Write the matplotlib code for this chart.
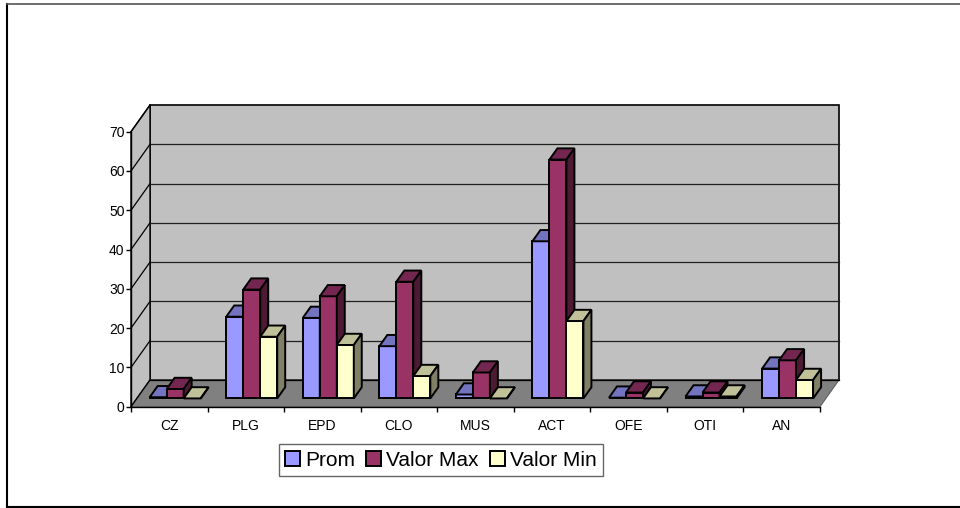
import matplotlib
matplotlib.use("Agg")
import matplotlib.pyplot as plt
from matplotlib.patches import Polygon, Patch
from matplotlib.lines import Line2D
import numpy as np

plt.rcParams["font.family"] = ["Liberation Sans", "DejaVu Sans"]

# ---- data -------------------------------------------------------------
categories = ["CZ", "PLG", "EPD", "CLO", "MUS", "ACT", "OFE", "OTI", "AN"]
prom = [0.3, 20.8, 20.5, 13.3, 1.0, 40.0, 0.2, 0.5, 7.6]
valor_max = [2.4, 27.7, 26.0, 29.7, 6.6, 60.8, 1.5, 1.5, 9.7]
valor_min = [0.0, 15.7, 13.6, 5.7, 0.0, 19.7, 0.0, 0.5, 4.7]
series_names = ["Prom", "Valor Max", "Valor Min"]
y_ticks = [0, 10, 20, 30, 40, 50, 60, 70]

series = [prom, valor_max, valor_min]
front_colors = ["#9999FF", "#993366", "#FFFFCC"]
top_colors = ["#7373C0", "#732650", "#C0C099"]
side_colors = ["#4D4D80", "#4D1A33", "#808066"]

# ---- figure / front plane of the 3-D box --------------------------------
W, H = 960, 508
fig = plt.figure(figsize=(W / 100, H / 100), dpi=100)
fig.patch.set_facecolor("white")

x_left, x_right = 131, 820          # front plane, pixels from left
y_bottom, y_top = 406.7, 131.7      # front plane, pixels from top
ax = fig.add_axes([x_left / W, 1 - y_bottom / H,
                   (x_right - x_left) / W, (y_bottom - y_top) / H])
n = len(categories)
ymax = y_ticks[-1]
ax.set_xlim(-0.5, n - 0.5)
ax.set_ylim(0, ymax)
ax.patch.set_visible(False)

px_per_cat = (x_right - x_left) / n
px_per_val = (y_bottom - y_top) / ymax
# oblique depth vector of the box (pixels) converted to data units
DX = 19.0 / px_per_cat
DY = 26.7 / px_per_val

wall_kw = dict(closed=True, clip_on=False)
xa, xb = -0.5, n - 0.5

# back wall
ax.add_patch(Polygon([(xa + DX, DY), (xb + DX, DY), (xb + DX, ymax + DY),
                      (xa + DX, ymax + DY)], facecolor="#C0C0C0",
                     edgecolor="black", lw=1.2, zorder=0, **wall_kw))
# side wall
ax.add_patch(Polygon([(xa, 0), (xa, ymax), (xa + DX, ymax + DY), (xa + DX, DY)],
                     facecolor="#C0C0C0", edgecolor="black", lw=1.0,
                     zorder=0.2, **wall_kw))
# floor
ax.add_patch(Polygon([(xa, 0), (xb, 0), (xb + DX, DY), (xa + DX, DY)],
                     facecolor="#808080", edgecolor="#606060", lw=0.8,
                     zorder=0.5, **wall_kw))

# gridlines on side and back walls
for v in y_ticks:
    ax.plot([xa, xa + DX], [v, v + DY], color="black", lw=0.9,
            zorder=0.6, clip_on=False)
    if 0 < v < ymax:
        ax.plot([xa + DX, xb + DX], [v + DY, v + DY], color="#202020",
                lw=0.9, zorder=0.3, clip_on=False)
ax.plot([xa + DX, xb + DX], [DY, DY], color="black", lw=0.9, zorder=0.6,
        clip_on=False)

# ---- 3-D columns --------------------------------------------------------
bar_w = 17.0 / px_per_cat
f_front, f_back = 0.31, 0.73
bdx = (f_back - f_front) * DX
bdy = (f_back - f_front) * DY
base = f_front * DY

order = 0
for j in range(n):
    for k, vals in enumerate(series):
        v = vals[j]
        xl = j - 1.5 * bar_w + k * bar_w + f_front * DX
        z = 3 + order * 0.01
        order += 1
        ax.bar(xl, v, width=bar_w, bottom=base, align="edge",
               color=front_colors[k], edgecolor="black", lw=1.4,
               zorder=z, clip_on=False)
        top = base + v
        ax.add_patch(Polygon([(xl, top), (xl + bar_w, top),
                              (xl + bar_w + bdx, top + bdy), (xl + bdx, top + bdy)],
                             facecolor=top_colors[k], edgecolor="black", lw=1.4,
                             zorder=z, closed=True, clip_on=False))
        ax.add_patch(Polygon([(xl + bar_w, base), (xl + bar_w, top),
                              (xl + bar_w + bdx, top + bdy), (xl + bar_w + bdx, base + bdy)],
                             facecolor=side_colors[k], edgecolor="black", lw=1.4,
                             zorder=z, closed=True, clip_on=False))

# ---- axes ---------------------------------------------------------------
for s in ("top", "right"):
    ax.spines[s].set_visible(False)
for s in ("left", "bottom"):
    ax.spines[s].set_color("black")
    ax.spines[s].set_linewidth(1.0)
    ax.spines[s].set_zorder(1)

ax.set_yticks(y_ticks)
ax.set_yticklabels([str(t) for t in y_ticks], fontsize=10)
ax.tick_params(axis="y", length=3.6, width=1.0, pad=1, colors="black")

ax.set_xticks(range(n))
ax.set_xticklabels(categories, fontsize=10)
ax.tick_params(axis="x", which="major", length=0, pad=9)
ax.set_xticks(np.arange(-0.5, n, 1.0), minor=True)
ax.tick_params(axis="x", which="minor", length=3.6, width=1.0, direction="out")

# ---- legend -------------------------------------------------------------
handles = [Patch(facecolor=c, edgecolor="black", lw=1.4) for c in front_colors]
leg = fig.legend(handles, series_names, loc="center",
                 bbox_to_anchor=(441 / W, 1 - 460 / H), ncol=3, fontsize=15,
                 frameon=True, fancybox=False, handlelength=0.7,
                 handleheight=0.7, handletextpad=0.25, columnspacing=0.55,
                 borderpad=0.3, borderaxespad=0)
leg.get_frame().set_edgecolor("#404040")
leg.get_frame().set_linewidth(1.0)

# ---- chart-area border --------------------------------------------------
bx0, by_top, by_bot = 7 / W, 1 - 4 / H, 1 - 506.5 / H
fig.add_artist(Line2D([bx0, bx0], [by_bot, by_top], color="black", lw=1.5))
fig.add_artist(Line2D([bx0, 1.0], [by_top, by_top], color="#555555", lw=1.2))
fig.add_artist(Line2D([bx0, 1.0], [by_bot, by_bot], color="black", lw=1.5))

fig.savefig("out.png", dpi=100)
